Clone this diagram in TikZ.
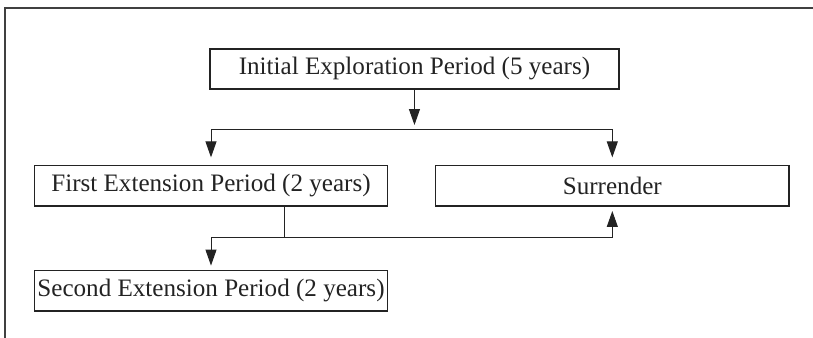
\documentclass[tikz,border=0pt]{standalone}
\usepackage{fontspec}
\setmainfont{Liberation Serif}
\usepackage{tikz}
\usetikzlibrary{arrows.meta, positioning, calc}
\definecolor{traco}{RGB}{35,35,35}

\begin{document}
\begin{tikzpicture}[
    fase/.style={draw=traco, line width=0.7pt, minimum width=62.3mm, minimum height=7.1mm, inner sep=0pt, font=\fontsize{12.6pt}{15pt}\selectfont, text=traco},
    seta/.style={-{Triangle[length=8pt, width=5.5pt]}, line width=0.5pt, traco},
    dupla/.style={{Triangle[length=8pt, width=5.5pt]}-{Triangle[length=8pt, width=5.5pt]}, line width=0.5pt, traco},
    linha/.style={line width=0.5pt, traco}
  ]
    \useasboundingbox (0,0) rectangle (14.341,-5.962);
    \draw[line width=0.75pt, black!75] (0.088,-5.962) -- (0.088,-0.141) -- (14.341,-0.141);
    \node[fase, minimum width=72.1mm] (ini) at (7.311,-1.217) {Initial Exploration Period (5 years)};
    \node[fase] (ext1) at (3.722,-3.279) {First Extension Period (2 years)};
    \node[fase] (rend) at (10.801,-3.279) {Surrender};
    \node[fase] (ext2) at (3.722,-5.128) {Second Extension Period (2 years)};
    \coordinate (nivel1) at (0,-2.281);
    \coordinate (nivel2) at (0,-4.193);
    \coordinate (saida) at ($(ext1.south)+(1.305,0)$);
    \draw[seta, shorten >=2.15pt] (ini.south) -- (ini.south |- nivel1);
    \draw[dupla, shorten <=3.85pt, shorten >=3.85pt] (ext1.north) |- (rend.north |- nivel1) -- (rend.north);
    \draw[linha] (saida) -- (saida |- nivel2);
    \draw[dupla, shorten <=2.15pt, shorten >=2.15pt] (ext2.north) |- (rend.south |- nivel2) -- (rend.south);
  \end{tikzpicture}
\end{document}
